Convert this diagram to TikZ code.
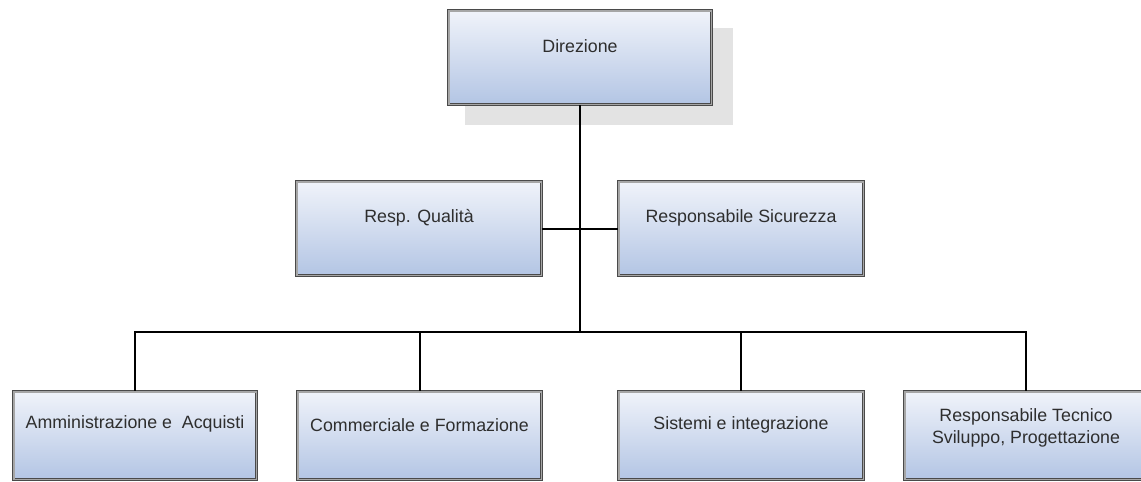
\documentclass[tikz,border=0pt]{standalone}
\usepackage{fontspec}
\setmainfont{Liberation Sans}
\definecolor{boxline}{HTML}{4A4A4A}
\definecolor{boxmid}{HTML}{A6A6A6}
\definecolor{boxtop}{HTML}{F0F3FA}
\definecolor{boxbot}{HTML}{B3C5E4}
\definecolor{shadowgray}{HTML}{E3E3E3}
\definecolor{txtgray}{HTML}{2E2E2E}
\tikzset{
  orgbox/.style 2 args={draw=boxline, double=boxmid, double distance=1.6pt, line width=0.9pt,
    top color=boxtop, bottom color=boxbot, inner sep=0pt,
    minimum width=#1pt-3.4pt, minimum height=#2pt-3.4pt},
  lbl/.style={font=\fontsize{17.8}{22}\selectfont, text=txtgray, align=center, inner sep=0pt},
  conn/.style={draw=black, line width=2pt},
}
\begin{document}
\begin{tikzpicture}[x=1pt,y=-1pt]
\useasboundingbox (0,0) rectangle (1141,482);
\clip (0,0) rectangle (1141,482);
% shadow of top box
\fill[shadowgray] (465,28) rectangle (733,125);
% boxes
\node[orgbox={266}{97}] (dir)  at (580,57.5) {};
\node[orgbox={248}{97}] (qual) at (419,228.5) {};
\node[orgbox={248}{97}] (sic)  at (741,228.5) {};
\node[orgbox={246}{91}] (b1)   at (135,435.5) {};
\node[orgbox={247}{91}] (b2)   at (419.5,435.5) {};
\node[orgbox={248}{91}] (b3)   at (741,435.5) {};
\node[orgbox={246}{91}] (b4)   at (1026,435.5) {};
% connectors
\coordinate (jbus) at (580,332);
\draw[conn] (dir.south) -- (jbus);
\draw[conn] (qual.east) -- (sic.west);
\draw[conn] (jbus) -| (b1.north);
\draw[conn] (jbus) -| (b2.north);
\draw[conn] (jbus) -| (b3.north);
\draw[conn] (jbus) -| (b4.north);
% labels
\node[lbl] (tdir)  at (580,46) {Direzione};
\node[lbl] (tqual) at (419,218) {Resp. Qualità};
\node[lbl] (tsic)  at (741,218) {Responsabile Sicurezza};
\node[lbl] (tb1)   at (135,424) {Amministrazione e\ \ Acquisti};
\node[lbl] (tb2)   at (419.5,425) {Commerciale e Formazione};
\node[lbl] (tb3)   at (741,425) {Sistemi e integrazione};
\node[lbl] (tb4)   at (1026,428) {Responsabile Tecnico\\Sviluppo, Progettazione};
\end{tikzpicture}
\end{document}
